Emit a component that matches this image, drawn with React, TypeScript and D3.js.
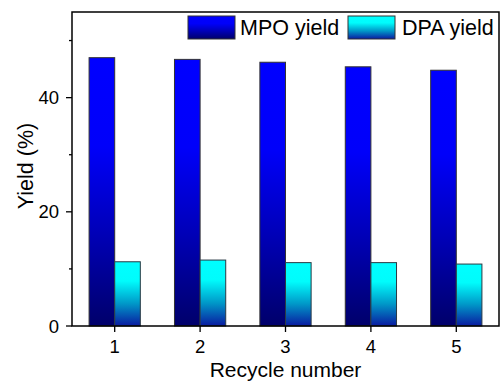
import React from "react";
import * as d3 from "d3";

const cycles = [1, 2, 3, 4, 5];
const mpoYield = [47.0, 46.7, 46.2, 45.4, 44.8];
const dpaYield = [11.25, 11.55, 11.1, 11.1, 10.85];
const seriesNames = ["MPO yield", "DPA yield"];
const yMajorTicks = [0, 20, 40];
const yMinorTicks = [10, 30, 50];

const W = 501;
const H = 383;
const plot = { left: 72, right: 499, top: 12, bottom: 326 };
const FONT = "Liberation Sans, Arial, sans-serif";

export default function App() {
  const x = d3.scaleLinear().domain([0.5, 5.5]).range([plot.left, plot.right]);
  const y = d3.scaleLinear().domain([0, 55]).range([plot.bottom, plot.top]);
  const bw = x(0.3) - x(0);

  const legendItems = [
    { name: seriesNames[0], fill: "url(#gradMPO)", sx: 188, tx: 240 },
    { name: seriesNames[1], fill: "url(#gradDPA)", sx: 348, tx: 402 },
  ];

  return (
    <div style={{ position: "absolute", left: 0, top: 0 }}>
      <svg width={W} height={H} style={{ display: "block", background: "#fff" }}>
        <defs>
          <linearGradient id="gradMPO" x1="0" y1="0" x2="0" y2="1">
            <stop offset="0" stopColor="#0000ff" />
            <stop offset="0.33" stopColor="#0000fa" />
            <stop offset="0.65" stopColor="#0000b8" />
            <stop offset="1" stopColor="#00006a" />
          </linearGradient>
          <linearGradient id="gradDPA" x1="0" y1="0" x2="0" y2="1">
            <stop offset="0" stopColor="#00ffff" />
            <stop offset="0.3" stopColor="#00fcfc" />
            <stop offset="0.65" stopColor="#0098c8" />
            <stop offset="1" stopColor="#0a1aa0" />
          </linearGradient>
        </defs>

        {/* bars */}
        {cycles.map((c, i) => (
          <g key={c}>
            <rect
              x={x(c) - bw}
              y={y(mpoYield[i])}
              width={bw}
              height={y(0) - y(mpoYield[i])}
              fill="url(#gradMPO)"
              stroke="#333"
              strokeWidth={1}
            />
            <rect
              x={x(c)}
              y={y(dpaYield[i])}
              width={bw}
              height={y(0) - y(dpaYield[i])}
              fill="url(#gradDPA)"
              stroke="#2a3a44"
              strokeWidth={1}
            />
          </g>
        ))}

        {/* frame */}
        <rect
          x={plot.left}
          y={plot.top}
          width={plot.right - plot.left}
          height={plot.bottom - plot.top}
          fill="none"
          stroke="#000"
          strokeWidth={1.5}
        />

        {/* y axis ticks */}
        {yMajorTicks.map((t) => (
          <g key={"ym" + t}>
            <line x1={plot.left - 6} x2={plot.left} y1={y(t)} y2={y(t)} stroke="#000" strokeWidth={1.3} />
            <text
              x={plot.left - 13}
              y={y(t)}
              dy="0.36em"
              textAnchor="end"
              fontFamily={FONT}
              fontSize={18.5}
              fill="#000"
            >
              {t}
            </text>
          </g>
        ))}
        {yMinorTicks.map((t) => (
          <line key={"yn" + t} x1={plot.left - 3} x2={plot.left} y1={y(t)} y2={y(t)} stroke="#000" strokeWidth={1.3} />
        ))}

        {/* x axis ticks */}
        {cycles.map((c) => (
          <g key={"xt" + c}>
            <line x1={x(c)} x2={x(c)} y1={plot.bottom} y2={plot.bottom + 6} stroke="#000" strokeWidth={1.3} />
            <text
              x={x(c)}
              y={353}
              textAnchor="middle"
              fontFamily={FONT}
              fontSize={18.5}
              fill="#000"
            >
              {c}
            </text>
          </g>
        ))}

        {/* axis titles */}
        <text
          x={(plot.left + plot.right) / 2}
          y={377}
          textAnchor="middle"
          fontFamily={FONT}
          fontSize={21}
          fill="#000"
        >
          Recycle number
        </text>
        <text
          transform={`translate(33, ${(plot.top + plot.bottom) / 2 - 3}) rotate(-90)`}
          textAnchor="middle"
          fontFamily={FONT}
          fontSize={21.5}
          fill="#000"
        >
          Yield (%)
        </text>

        {/* legend */}
        {legendItems.map((l) => (
          <g key={l.name}>
            <rect x={l.sx} y={16} width={47} height={23} fill={l.fill} stroke="#333" strokeWidth={1} />
            <text x={l.tx} y={34.5} fontFamily={FONT} fontSize={21.5} fill="#000">
              {l.name}
            </text>
          </g>
        ))}
      </svg>
    </div>
  );
}
